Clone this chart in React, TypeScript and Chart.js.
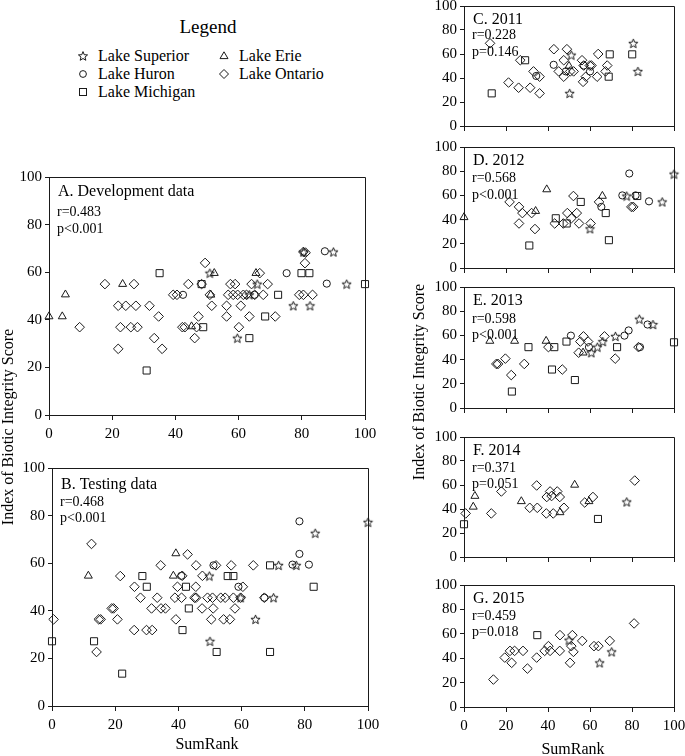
import React, { useEffect, useRef } from 'react';
import { Chart, registerables } from 'chart.js';
Chart.register(...registerables);

type P = [number, number];
const FONT = "'Liberation Serif', 'Times New Roman', serif";
Chart.defaults.font.family = FONT;
Chart.defaults.font.size = 15;
Chart.defaults.color = '#000';

const lakeNames = ['Lake Superior', 'Lake Huron', 'Lake Michigan', 'Lake Erie', 'Lake Ontario'];
const axisTicks = [0, 20, 40, 60, 80, 100];

// A. Development data
const aSuperior: P[] = [[50.9, 59.6], [65.9, 55], [63.4, 50.5], [59.6, 32.3], [77.3, 45.9], [82.6, 45.9], [80.5, 68.5], [90, 68.5], [94.2, 55]];
const aHuron: P[] = [[42.4, 50.5], [75.2, 59.6], [87.3, 68.8], [87.9, 55.2], [65, 50.5]];
const aMichigan: P[] = [[35, 59.6], [48.3, 55], [48.8, 36.9], [30.9, 18.7], [63.4, 32.3], [68.4, 41.4], [72.5, 50.5], [79.9, 59.6], [82.4, 59.6], [100, 55]];
const aErie: P[] = [[0, 41.4], [4.2, 41.4], [5.2, 50.6], [23.3, 55], [52.3, 59.6], [65.5, 59.6], [45.1, 37.2], [51.2, 50.5]];
const aOntario: P[] = [[80.5, 68.5], [81.2, 68.2], [49.4, 63.9], [81, 63.8], [66.7, 59.6],
  [17.7, 55], [26.9, 55], [44.1, 55], [48.3, 55], [57.4, 55], [58.9, 55], [64.1, 55], [69.2, 55],
  [39.3, 50.5], [40.5, 50.5], [50.9, 50.5], [56.7, 50.5], [58.3, 50.5], [59.7, 50.5], [61.5, 50.5], [62.5, 50.5], [65.1, 50.5], [67.8, 50.5], [79.2, 50.5], [80.5, 50.5], [83.4, 50.5],
  [21.9, 45.9], [24.3, 45.9], [27.5, 45.9], [31.8, 45.9], [51.5, 45.9], [56.2, 45.9], [60.7, 45.9],
  [34.7, 41.4], [47.3, 41.4], [56.2, 41.4], [63.4, 41.4], [71.6, 41.4],
  [9.7, 36.9], [22.6, 36.9], [25.9, 36.9], [28, 36.9], [42.2, 36.9], [43, 36.9], [46.7, 36.9], [60.1, 36.9],
  [33.3, 32.3], [46.1, 32.3], [21.9, 27.8], [35.8, 27.8]];

// B. Testing data
const bSuperior: P[] = [[49.8, 54.6], [50, 27.2], [59.7, 45.5], [64.4, 36.4], [70.1, 45.5], [71.7, 59.1], [77.3, 59.1], [83.3, 72.6], [100, 77.2]];
const bHuron: P[] = [[40.9, 54.7], [51.1, 59.1], [59, 50.1], [67.2, 45.5], [76.1, 59.4], [78.3, 63.9], [78.3, 77.6], [81.3, 59.4]];
const bMichigan: P[] = [[0, 27.2], [13.3, 27.2], [22.2, 13.6], [28.6, 54.6], [30, 50.1], [41.3, 31.9], [42.4, 50.1], [43.3, 41], [52.1, 22.7], [55.6, 54.6], [57.4, 54.6], [69, 59.1], [69, 22.7], [82.8, 50.1]];
const bErie: P[] = [[11.5, 54.7], [38.4, 54.7], [39.2, 64.1]];
const bOntario: P[] = [[0.5, 36.4], [12.5, 68.1], [14.1, 22.7], [14.8, 36.4], [15.4, 36.4], [18.9, 41], [19.5, 41], [20.7, 36.4], [21.6, 54.6], [26.1, 50.1], [26, 31.9], [28, 45.5], [29.9, 31.9], [31.7, 31.9], [31.5, 41], [33.3, 45.5], [34.5, 41], [35.9, 41], [34.4, 59.1], [38.9, 45.5], [39.7, 50.1], [39.2, 36.4], [41.2, 54.7], [41, 45.5], [42.9, 63.7], [45.6, 59.1], [45.5, 50.1], [45.1, 45.5], [45.6, 45.5], [47.6, 54.7], [47.5, 41], [49.2, 45.5], [50.4, 36.4], [51.9, 59.1], [50.8, 45.5], [51, 41], [53.4, 45.5], [54.3, 36.4], [54.8, 45.5], [56.3, 36.4], [56.7, 59.1], [57.4, 45.5], [57.9, 41], [60.4, 50.1], [59.7, 45.5], [63.7, 59.1], [67.2, 45.5]];

// C. 2011
const cSuperior: P[] = [[51.1, 59.1], [50.3, 27.2], [80.6, 68.9], [82.8, 45.5]];
const cHuron: P[] = [[42.7, 51], [34.4, 41.7], [57, 50.4], [60, 45.5], [48.5, 45.5]];
const cMichigan: P[] = [[13.2, 27.2], [29.1, 54.8], [69.4, 59.7], [68.9, 41.1], [80.1, 59.7]];
const cErie: P[] = [[50, 50]];
const cOntario: P[] = [[12.4, 68.9], [21.2, 36.2], [26.8, 54.8], [26, 31.9], [31.5, 31.9], [33.1, 45.5], [36, 41.1], [36, 27.2], [42.8, 64], [45.1, 45.5], [47.5, 41.1], [47.5, 54.8], [49, 64], [50.6, 45.5], [52.2, 45.5], [56.2, 54.8], [57, 50.4], [58, 41.1], [56.7, 36.8], [59.9, 50.4], [60.7, 50.4], [63.4, 41.1], [63.9, 60], [67.4, 45.5], [68.2, 50.4]];

// D. 2012
const dSuperior: P[] = [[60, 32.4], [77.5, 59.5], [94.4, 54.6], [100, 77.6]];
const dHuron: P[] = [[65.4, 50.5], [75.4, 60], [78.7, 78.1], [81.7, 60], [88.1, 55.1]];
const dMichigan: P[] = [[31.1, 18.6], [43.7, 41.1], [48.9, 36.8], [55.6, 54.6], [67.5, 45.4], [69, 23], [82.5, 59.5]];
const dErie: P[] = [[0, 41.9], [39.4, 64.9], [34.1, 47], [65.9, 59.5]];
const dOntario: P[] = [[21.7, 54.6], [26.2, 50.5], [27.8, 45.4], [26.2, 36.8], [32.2, 45.4], [33.8, 32.2], [43.2, 36.8], [47.3, 36.8], [49.2, 45.4], [51.1, 41.1], [52.1, 59.5], [53.7, 45.4], [54.8, 36.8], [60.3, 36.8], [64.3, 54.6], [79.7, 50.5], [80.6, 50.5]];

// E. 2013
const eSuperior: P[] = [[60.6, 45.7], [63.5, 50.3], [66.1, 54.9], [72.1, 59.2], [83.5, 73.4], [90, 69]];
const eHuron: P[] = [[50.9, 59.8], [59.5, 50.3], [76.4, 59.8], [78.4, 64.1], [83.8, 50.3], [87.4, 69]];
const eMichigan: P[] = [[22.8, 13.6], [30.7, 50.3], [43, 50.3], [41.9, 31.8], [48.8, 54.9], [52.8, 23.1], [72.9, 50.3], [100, 54.3]];
const eErie: P[] = [[12.3, 55.4], [24.1, 55.4], [39.1, 55.4], [56.7, 45.7]];
const eOntario: P[] = [[15.4, 36.4], [16.2, 36.4], [19.7, 40.8], [22.5, 27.2], [28.7, 36.4], [40.2, 50.3], [46.8, 31.8], [54.6, 45.7], [55.4, 54.9], [56.9, 59.2], [59.1, 54.9], [66.9, 59.2], [72, 40.8], [83.1, 50.3]];

// F. 2014
const fSuperior: P[] = [[77.5, 45.9]];
const fHuron: P[] = [];
const fMichigan: P[] = [[0, 27.3], [63.8, 31.7]];
const fErie: P[] = [[4.4, 41.8], [5.2, 50.8], [27.3, 46.4], [45.7, 37.2], [52.7, 60.1], [59.5, 46.4]];
const fOntario: P[] = [[0.8, 36.3], [13, 36.3], [17.8, 54.6], [31.3, 41], [34.6, 59.6], [34.9, 41], [39.4, 50], [39.2, 36.3], [41, 54.6], [41.7, 50.8], [42.5, 36.3], [44.4, 54.6], [45.6, 50], [47.6, 41], [57.5, 45.4], [61.4, 50], [81.3, 63.7]];

// G. 2015
const gSuperior: P[] = [[50, 54.8], [64.6, 36.2], [70.3, 45.2]];
const gHuron: P[] = [];
const gMichigan: P[] = [[34.9, 58.9]];
const gErie: P[] = [];
const gOntario: P[] = [[14, 22.5], [19.4, 40.5], [21.9, 46], [22.7, 36.2], [24.1, 46], [28.1, 46], [30.2, 31.5], [34.6, 40.5], [38.4, 46], [40.2, 49.9], [41, 46], [45.7, 58.9], [45.6, 46], [50.5, 36.2], [51.1, 49.9], [51.6, 58.9], [52.1, 45.2], [56.3, 54.2], [61.9, 49.9], [64, 49.9], [69.4, 54.2], [81, 68.5]];

const INK = '#1a1a1a';

function starImage(): HTMLCanvasElement {
  const c = document.createElement('canvas');
  c.width = 11; c.height = 11;
  const g = c.getContext('2d')!;
  g.strokeStyle = INK; g.lineWidth = 1;
  g.beginPath();
  for (let i = 0; i < 10; i++) {
    const r = i % 2 === 0 ? 4.8 : 2.1;
    const a = -Math.PI / 2 + (i * Math.PI) / 5;
    const x = 5.5 + r * Math.cos(a);
    const y = 5.9 + r * Math.sin(a);
    if (i === 0) g.moveTo(x, y); else g.lineTo(x, y);
  }
  g.closePath();
  g.stroke();
  return c;
}

function styles() {
  return [
    { pointStyle: starImage() as any, pointRadius: 5 },
    { pointStyle: 'circle', pointRadius: 3.6 },
    { pointStyle: 'rect', pointRadius: 5 },
    { pointStyle: 'triangle', pointRadius: 4.6 },
    { pointStyle: 'rectRot', pointRadius: 4.8 },
  ];
}

type PanelProps = {
  left: number; top: number; width: number; height: number;
  showXLabels: boolean; series: P[][];
  title: string; r: string; p: string;
  tOff: [number, number, number];
};

const Y_W = 45, PAD_T = 12, PAD_R = 18;

function Panel(props: PanelProps) {
  const ref = useRef<HTMLCanvasElement>(null);
  const xH = props.showXLabels ? 32 : 10;
  const cw = Y_W + props.width + PAD_R;
  const ch = PAD_T + props.height + xH;
  useEffect(() => {
    const st = styles();
    const datasets = props.series.map((pts, i) => ({
      label: lakeNames[i],
      data: pts.map(([x, y]) => ({ x, y })),
      pointStyle: st[i].pointStyle,
      pointRadius: st[i].pointRadius,
      pointBorderWidth: 1,
      borderColor: INK,
      backgroundColor: 'rgba(0,0,0,0)',
      showLine: false,
      clip: false as any,
    }));
    const tickFont = () => ({ family: FONT, size: 15, style: 'normal', weight: 'normal', lineHeight: 1.2 });
    const frame = {
      id: 'frame',
      afterDraw(chart: any) {
        const a = chart.chartArea;
        const ctx = chart.ctx;
        ctx.save();
        ctx.strokeStyle = INK;
        ctx.lineWidth = 1;
        ctx.beginPath();
        ctx.moveTo(Math.round(a.left) + 0.5, Math.round(a.top) + 0.5);
        ctx.lineTo(Math.round(a.right) + 0.5, Math.round(a.top) + 0.5);
        ctx.lineTo(Math.round(a.right) + 0.5, Math.round(a.bottom) + 0.5);
        ctx.stroke();
        ctx.fillStyle = '#000';
        ctx.textBaseline = 'middle';
        ctx.textAlign = 'left';
        ctx.font = `16px ${FONT}`;
        ctx.fillText(props.title, a.left + 9, a.top + props.tOff[0]);
        ctx.font = `14px ${FONT}`;
        ctx.fillText(props.r, a.left + 8, a.top + props.tOff[1]);
        ctx.fillText(props.p, a.left + 8, a.top + props.tOff[2]);
        ctx.restore();
      },
    };
    const chart = new Chart(ref.current!, {
      type: 'scatter',
      data: { datasets },
      options: {
        animation: false,
        responsive: false,
        devicePixelRatio: 1,
        events: [],
        font: { family: FONT, size: 15 },
        layout: { padding: { left: 0, top: PAD_T, right: PAD_R, bottom: 0 } },
        plugins: { legend: { display: false }, tooltip: { enabled: false } },
        scales: {
          x: {
            type: 'linear', min: 0, max: 100,
            afterBuildTicks: (s: any) => { s.ticks = axisTicks.map((v) => ({ value: v })); },
            afterFit: (s: any) => { s.height = xH; },
            ticks: { display: props.showXLabels, font: tickFont, color: '#000', padding: 5, maxRotation: 0, autoSkip: false },
            grid: { display: true, drawOnChartArea: false, drawTicks: true, tickLength: 5, color: INK },
            border: { display: true, color: INK, width: 1 },
          },
          y: {
            type: 'linear', min: 0, max: 100,
            afterBuildTicks: (s: any) => { s.ticks = axisTicks.map((v) => ({ value: v })); },
            afterFit: (s: any) => { s.width = Y_W; },
            ticks: { font: tickFont, color: '#000', padding: 3, autoSkip: false },
            grid: { display: true, drawOnChartArea: false, drawTicks: true, tickLength: 4, color: INK },
            border: { display: true, color: INK, width: 1 },
          },
        },
      } as any,
      plugins: [frame],
    });
    return () => chart.destroy();
  }, []);
  return (
    <canvas
      ref={ref}
      width={cw}
      height={ch}
      style={{ position: 'absolute', left: props.left - Y_W, top: props.top - PAD_T, width: cw, height: ch }}
    />
  );
}

function Icon({ kind }: { kind: string }) {
  const s = { fill: 'none', stroke: INK, strokeWidth: 1 };
  let el: any = null;
  if (kind === 'star') {
    const pts: string[] = [];
    for (let i = 0; i < 10; i++) {
      const r = i % 2 === 0 ? 4.8 : 2.1;
      const a = -Math.PI / 2 + (i * Math.PI) / 5;
      pts.push(`${(6 + r * Math.cos(a)).toFixed(2)},${(6.4 + r * Math.sin(a)).toFixed(2)}`);
    }
    el = <polygon points={pts.join(' ')} {...s} />;
  } else if (kind === 'circle') el = <circle cx={6} cy={6} r={3.4} {...s} />;
  else if (kind === 'square') el = <rect x={2.5} y={2.5} width={7} height={7} {...s} />;
  else if (kind === 'triangle') el = <polygon points="6,1.8 10,8.6 2,8.6" {...s} />;
  else el = <polygon points="6,1.5 10.5,6 6,10.5 1.5,6" {...s} />;
  return <svg width={12} height={12} style={{ position: 'absolute', left: -6, top: -6 }}>{el}</svg>;
}

function LegendItem({ x, y, kind, text }: { x: number; y: number; kind: string; text: string }) {
  return (
    <>
      <div style={{ position: 'absolute', left: x, top: y }}><Icon kind={kind} /></div>
      <div style={{ position: 'absolute', left: x + 15, top: y - 10, height: 20, lineHeight: '20px', fontSize: 16, fontFamily: FONT, whiteSpace: 'nowrap', color: '#000' }}>{text}</div>
    </>
  );
}

function Text({ cx, cy, text, size, rotate }: { cx: number; cy: number; text: string; size: number; rotate?: boolean }) {
  return (
    <div style={{
      position: 'absolute', left: cx - 200, top: cy - 12, width: 400, height: 24, lineHeight: '24px',
      textAlign: 'center', fontSize: size, fontFamily: FONT, color: '#000', whiteSpace: 'nowrap',
      transform: rotate ? 'rotate(-90deg)' : undefined, transformOrigin: 'center center',
    }}>{text}</div>
  );
}

export default function App() {
  const RL = 463.5, RW = 210;
  return (
    <div style={{ position: 'absolute', left: 0, top: 0, width: 685, height: 756, background: '#fff', overflow: 'hidden' }}>
      <Text cx={208} cy={27} text="Legend" size={19} />
      <LegendItem x={83} y={56} kind="star" text={lakeNames[0]} />
      <LegendItem x={83} y={74} kind="circle" text={lakeNames[1]} />
      <LegendItem x={83} y={92} kind="square" text={lakeNames[2]} />
      <LegendItem x={224} y={56} kind="triangle" text={lakeNames[3]} />
      <LegendItem x={224} y={74} kind="diamond" text={lakeNames[4]} />

      <Panel left={49} top={177} width={316} height={238} showXLabels series={[aSuperior, aHuron, aMichigan, aErie, aOntario]}
        title="A. Development data" r="r=0.483" p="p<0.001" tOff={[15, 35, 52]} />
      <Panel left={52} top={468} width={316} height={238} showXLabels series={[bSuperior, bHuron, bMichigan, bErie, bOntario]}
        title="B. Testing data" r="r=0.468" p="p<0.001" tOff={[17, 34, 50]} />

      <Panel left={RL} top={6} width={RW} height={122} showXLabels={false} series={[cSuperior, cHuron, cMichigan, cErie, cOntario]}
        title="C. 2011" r="r=0.228" p="p=0.146" tOff={[13.5, 29, 46.5]} />
      <Panel left={RL} top={147} width={RW} height={123} showXLabels={false} series={[dSuperior, dHuron, dMichigan, dErie, dOntario]}
        title="D. 2012" r="r=0.568" p="p<0.001" tOff={[13.5, 31.5, 48.5]} />
      <Panel left={RL} top={287} width={RW} height={123} showXLabels={false} series={[eSuperior, eHuron, eMichigan, eErie, eOntario]}
        title="E. 2013" r="r=0.598" p="p<0.001" tOff={[13.5, 32, 48.5]} />
      <Panel left={RL} top={437} width={RW} height={122} showXLabels={false} series={[fSuperior, fHuron, fMichigan, fErie, fOntario]}
        title="F. 2014" r="r=0.371" p="p=0.051" tOff={[13.5, 31, 47.5]} />
      <Panel left={RL} top={585} width={RW} height={122} showXLabels series={[gSuperior, gHuron, gMichigan, gErie, gOntario]}
        title="G. 2015" r="r=0.459" p="p=0.018" tOff={[13.5, 31, 47.5]} />

      <Text cx={8} cy={427} text="Index of Biotic Integrity Score" size={16} rotate />
      <Text cx={419} cy={382} text="Index of Biotic Integrity Score" size={16} rotate />
      <Text cx={207} cy={744} text="SumRank" size={16} />
      <Text cx={573} cy={749} text="SumRank" size={16} />
    </div>
  );
}
